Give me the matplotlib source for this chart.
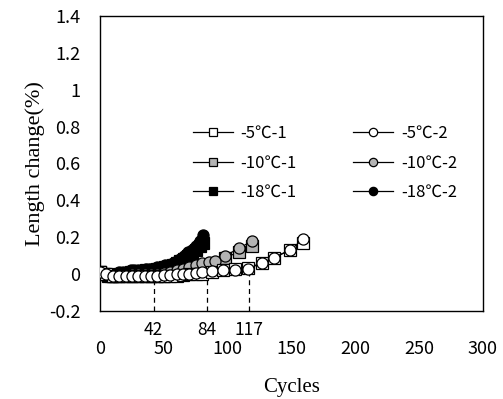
import matplotlib
matplotlib.use("Agg")
import matplotlib.pyplot as plt

# ---- data ----
cyc_5 = [0, 5, 10, 15, 20, 25, 30, 35, 40, 45, 50, 55, 60, 65, 70, 75, 80, 88, 96, 106, 116, 127, 136, 149, 159]
len_5_1 = [0.01, 0.0, -0.01, -0.01, -0.01, -0.01, -0.01, -0.01, -0.01, -0.01, -0.01, -0.01, -0.01, -0.005,
           0.0, 0.0, 0.0, 0.01, 0.02, 0.03, 0.035, 0.06, 0.09, 0.13, 0.17]
len_5_2 = [0.01, 0.0, -0.01, -0.01, -0.01, -0.01, -0.01, -0.01, -0.01, -0.01, -0.005, -0.005, 0.0, 0.0,
           0.0, 0.005, 0.01, 0.015, 0.02, 0.02, 0.03, 0.06, 0.09, 0.13, 0.19]

cyc_10 = [0, 5, 10, 15, 20, 25, 30, 35, 40, 45, 50, 55, 60, 65, 70, 75, 80, 85, 90, 98, 109, 119]
len_10_1 = [0.01, 0.0, -0.01, -0.01, -0.01, -0.01, -0.01, -0.01, -0.01, -0.01, -0.01, -0.005, 0.0, 0.01,
            0.02, 0.03, 0.04, 0.045, 0.05, 0.09, 0.12, 0.15]
len_10_2 = [0.01, 0.0, -0.01, -0.01, -0.005, 0.0, 0.0, 0.0, 0.0, 0.0, 0.005, 0.01, 0.02, 0.03,
            0.04, 0.05, 0.06, 0.065, 0.07, 0.10, 0.14, 0.18]

cyc_18 = [0, 3, 6, 9, 12, 15, 18, 21, 24, 27, 30, 33, 36, 39, 42, 45, 48, 51, 54, 57, 60, 63, 66, 69, 72, 75, 78, 81]
len_18_1 = [0.01, 0.0, -0.01, -0.01, -0.01, 0.0, 0.0, 0.0, 0.01, 0.01, 0.01, 0.01, 0.02, 0.02,
            0.02, 0.03, 0.03, 0.04, 0.04, 0.05, 0.06, 0.07, 0.08, 0.10, 0.11, 0.13, 0.15, 0.17]
len_18_2 = [0.01, 0.0, -0.005, 0.0, 0.0, 0.01, 0.01, 0.01, 0.02, 0.02, 0.02, 0.02, 0.03, 0.03,
            0.03, 0.04, 0.04, 0.05, 0.05, 0.06, 0.07, 0.08, 0.10, 0.12, 0.13, 0.15, 0.18, 0.21]

mark_cycles = [42, 84, 117]
mark_tops = [-0.03, -0.03, 0.0]

labels = ["-5\u2103-1", "-10\u2103-1", "-18\u2103-1", "-5\u2103-2", "-10\u2103-2", "-18\u2103-2"]

# ---- figure ----
sans = ["Noto Sans CJK SC", "DejaVu Sans"]
serif = ["Liberation Serif", "DejaVu Serif"]

fig = plt.figure(figsize=(5.03, 3.99), dpi=100)
ax = fig.add_axes([100 / 503, 1 - 311 / 399, 383 / 503, 295 / 399])

gray = "#b4b4b4"
ms = 8
kw = dict(linewidth=0.9, color="black", markeredgecolor="black", markeredgewidth=0.9, markersize=ms)

for i, c in enumerate(mark_cycles):
    ax.plot([c, c], [-0.2, mark_tops[i]], linestyle=(0, (4, 3)), color="black", linewidth=0.9, zorder=1)

h = {}
h[2] = ax.plot(cyc_18, len_18_1, marker="s", markerfacecolor="black", zorder=2, **kw)[0]
h[5] = ax.plot(cyc_18, len_18_2, marker="o", markerfacecolor="black", zorder=2, **kw)[0]
h[1] = ax.plot(cyc_10, len_10_1, marker="s", markerfacecolor=gray, zorder=3, **kw)[0]
h[4] = ax.plot(cyc_10, len_10_2, marker="o", markerfacecolor=gray, zorder=3, **kw)[0]
h[0] = ax.plot(cyc_5, len_5_1, marker="s", markerfacecolor="white", zorder=4, **kw)[0]
h[3] = ax.plot(cyc_5, len_5_2, marker="o", markerfacecolor="white", zorder=4, **kw)[0]

for i, c in enumerate(mark_cycles):
    ax.text(c, -0.303, str(c), ha="center", va="center", fontsize=12.5, family=sans)

ax.set_xlim(0, 300)
ax.set_ylim(-0.2, 1.4)
ax.set_xticks([0, 50, 100, 150, 200, 250, 300])
ax.set_xticklabels(["0", "50", "100", "150", "200", "250", "300"], family=sans, fontsize=13)
yt = [-0.2, 0, 0.2, 0.4, 0.6, 0.8, 1.0, 1.2, 1.4]
ax.set_yticks(yt)
ax.set_yticklabels(["-0.2", "0", "0.2", "0.4", "0.6", "0.8", "1", "1.2", "1.4"], family=sans, fontsize=13)
ax.tick_params(axis="both", length=0)
ax.tick_params(axis="x", pad=21)
ax.tick_params(axis="y", pad=14)
for s in ax.spines.values():
    s.set_linewidth(1.0)
    s.set_color("black")

ax.set_xlabel("Cycles", family=serif, fontsize=15, labelpad=14)
ax.set_ylabel("Length change(%)", family=serif, fontsize=16, labelpad=3)

leg = ax.legend([h[i] for i in range(6)], labels, ncol=2, loc="upper left",
                bbox_to_anchor=((178 - 100) / 383, 1 - (110 - 16) / 295),
                frameon=False, markerscale=0.75, handlelength=2.4, handletextpad=0.45,
                columnspacing=3.4, labelspacing=0.75, prop={"family": sans, "size": 12})

fig.savefig("out.png", dpi=100)
